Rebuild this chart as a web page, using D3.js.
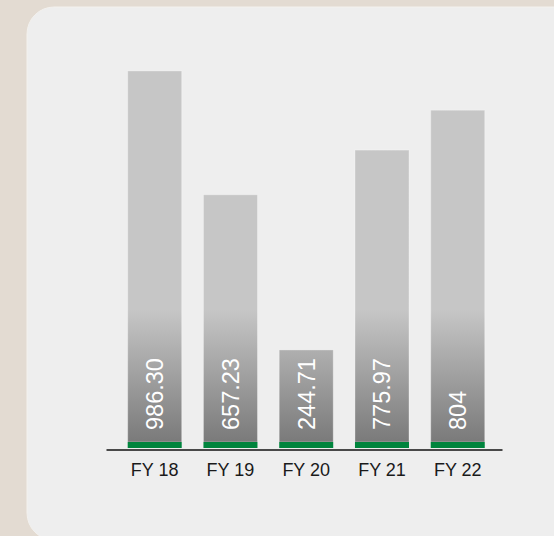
<!DOCTYPE html>
<html>
<head>
<meta charset="utf-8">
<script src="https://cdn.jsdelivr.net/npm/d3@7"></script>
<style>
  html, body { margin: 0; padding: 0; background: #e3dbd2; }
  svg { display: block; }
</style>
</head>
<body>
<div id="chart"></div>
<script>
// values (FY 22 bar is drawn taller than its 804 label)
var years = ["FY 18", "FY 19", "FY 20", "FY 21", "FY 22"];
var barValues = [986.30, 657.23, 244.71, 775.97, 882];
var barLabels = ["986.30", "657.23", "244.71", "775.97", "804"];

var W = 554, H = 536;
var baseY = 442;   // top of the green strip
var stripH = 6;

var svg = d3.select("#chart").append("svg")
  .attr("width", W)
  .attr("height", H);

var defs = svg.append("defs");
var grad = defs.append("linearGradient")
  .attr("id", "barGrad")
  .attr("gradientUnits", "userSpaceOnUse")
  .attr("x1", 0).attr("x2", 0)
  .attr("y1", 310).attr("y2", baseY);
grad.append("stop").attr("offset", "0%").attr("stop-color", "#c6c6c6");
grad.append("stop").attr("offset", "100%").attr("stop-color", "#7a7a7a");

// panel
svg.append("rect")
  .attr("x", 27).attr("y", 7)
  .attr("width", 600).attr("height", 533)
  .attr("rx", 27).attr("ry", 27)
  .attr("fill", "#eeeeee")
  .attr("stroke", "#f3f1ee")
  .attr("stroke-width", 1);

var x = d3.scaleBand()
  .domain(years)
  .range([106, 502])
  .paddingInner(0.287)
  .paddingOuter(0.257)
  .align(0.557);

var y = d3.scaleLinear()
  .domain([0, 1000])
  .range([baseY, baseY - 376.2]);

var bars = svg.append("g").selectAll("g")
  .data(years)
  .join("g");

bars.append("rect")
  .attr("x", function(d) { return x(d); })
  .attr("y", function(d, i) { return y(barValues[i]); })
  .attr("width", x.bandwidth())
  .attr("height", function(d, i) { return baseY - y(barValues[i]); })
  .attr("fill", "url(#barGrad)")
  .attr("stroke", "rgba(255,255,255,0.3)")
  .attr("stroke-width", 1);

bars.append("rect")
  .attr("x", function(d) { return x(d); })
  .attr("y", baseY)
  .attr("width", x.bandwidth())
  .attr("height", stripH)
  .attr("fill", "#00843d");

bars.append("text")
  .attr("transform", function(d) {
    return "translate(" + (x(d) + x.bandwidth() / 2) + "," + (baseY - 12) + ") rotate(-90)";
  })
  .attr("dy", "0.36em")
  .attr("text-anchor", "start")
  .attr("fill", "#ffffff")
  .style("font-family", "'Liberation Sans', Arial, sans-serif")
  .style("font-size", "23.5px")
  .text(function(d, i) { return barLabels[i]; });

// x axis
var xAxis = d3.axisBottom(x).tickSize(0).tickSizeOuter(0);
var gx = svg.append("g")
  .attr("transform", "translate(0," + (baseY + stripH + 1.5) + ")")
  .call(xAxis);

gx.select(".domain")
  .attr("stroke", "#111")
  .attr("stroke-width", 1.6);

gx.selectAll("text")
  .attr("y", 26.5)
  .attr("dy", 0)
  .attr("fill", "#1a1a1a")
  .style("font-family", "'Liberation Sans', Arial, sans-serif")
  .style("font-size", "18px");
</script>
</body>
</html>
